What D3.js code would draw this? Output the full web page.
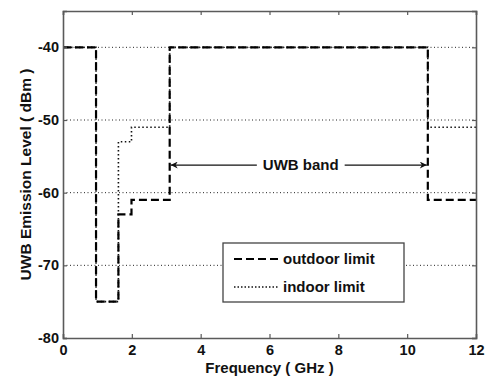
<!DOCTYPE html>
<html><head><meta charset="utf-8">
<script src="https://cdn.jsdelivr.net/npm/d3@7"></script>
<style>
html,body{margin:0;padding:0;background:#fff;}
svg text{font-family:"Liberation Sans",Arial,sans-serif;}
</style></head>
<body><svg id="chart" width="487" height="377"></svg>
<script>
// step-function breakpoints (GHz) and levels (dBm)
const freqEdges = [0, 0.96, 1.61, 1.99, 3.1, 10.6, 12];
const outdoorLevels = [-40, -75, -63, -61, -40, -61];
const indoorLevels  = [-40, -75, -53, -51, -40, -51];
const xTicks = [0, 2, 4, 6, 8, 10, 12];
const yTicks = [-80, -70, -60, -50, -40];
const gridLevels = [-70, -60, -50, -40];
const bandStart = 3.1, bandEnd = 10.6, bandLabelLevel = -56.2;

const svg = d3.select("#chart");
const m = {l:63, r:476, t:11, b:338};
const x = d3.scaleLinear().domain([0,12]).range([m.l, m.r]);
const y = d3.scaleLinear().domain([-80,-35]).range([m.b, m.t]);
const axisCol = "#5a5a5a";

// grid (horizontal dotted)
svg.append("g").selectAll("line").data(gridLevels).join("line")
  .attr("x1", m.l).attr("x2", m.r)
  .attr("y1", d=>y(d)).attr("y2", d=>y(d))
  .attr("stroke","#222").attr("stroke-width",1).attr("stroke-dasharray","1,2.5");

function stepData(levels){
  const pts=[];
  levels.forEach((v,i)=>{pts.push([freqEdges[i],v]);pts.push([freqEdges[i+1],v]);});
  return pts;
}
const line = d3.line().x(d=>x(d[0])).y(d=>y(d[1]));

svg.append("path").datum(stepData(indoorLevels)).attr("d",line)
  .attr("fill","none").attr("stroke","#111").attr("stroke-width",1.6)
  .attr("stroke-dasharray","1.5,2.5");
svg.append("path").datum(stepData(outdoorLevels)).attr("d",line)
  .attr("fill","none").attr("stroke","#000").attr("stroke-width",2.2)
  .attr("stroke-dasharray","8,4");

// axes
const fmt = d=>String(d);
const gx = svg.append("g").attr("transform",`translate(0,${m.b})`)
  .call(d3.axisBottom(x).tickValues(xTicks).tickSize(-4).tickPadding(6).tickFormat(fmt));
const gxt = svg.append("g").attr("transform",`translate(0,${m.t})`)
  .call(d3.axisTop(x).tickValues(xTicks).tickSize(-4).tickFormat(""));
const gy = svg.append("g").attr("transform",`translate(${m.l},0)`)
  .call(d3.axisLeft(y).tickValues(yTicks).tickSize(-4).tickPadding(5).tickFormat(fmt));
const gyr = svg.append("g").attr("transform",`translate(${m.r},0)`)
  .call(d3.axisRight(y).tickValues(yTicks).tickSize(-4).tickFormat(""));
[gx,gxt,gy,gyr].forEach(g=>{
  g.select(".domain").attr("stroke",axisCol).attr("stroke-width",1.6);
  g.selectAll(".tick line").attr("stroke",axisCol).attr("stroke-width",1.2);
  g.selectAll("text").attr("fill","#111").style("font-size","14.5px").style("font-weight","bold")
    .style("font-family","'Liberation Sans',Arial,sans-serif");
});
gx.selectAll("text").attr("dy","0.75em");
gy.selectAll("text").attr("dx","1");

// axis labels
svg.append("text").attr("x",(m.l+m.r)/2).attr("y",373).attr("text-anchor","middle")
  .style("font-size","15px").style("font-weight","bold").attr("fill","#111")
  .text("Frequency ( GHz )");
svg.append("text").attr("transform",`translate(31,${(m.t+m.b)/2}) rotate(-90)`)
  .attr("text-anchor","middle").style("font-size","15.5px").style("font-weight","bold").attr("fill","#111")
  .text("UWB Emission Level ( dBm )");

// UWB band annotation
const defs = svg.append("defs");
defs.append("marker").attr("id","ah").attr("viewBox","0 0 10 10").attr("refX",10).attr("refY",5)
  .attr("markerWidth",9).attr("markerHeight",7).attr("markerUnits","userSpaceOnUse").attr("orient","auto")
  .append("path").attr("d","M0,0 L10,5 L0,10 L3,5 Z").attr("fill","#111");
const ya = y(bandLabelLevel);
const lbl = svg.append("text").attr("x",(x(bandStart)+x(bandEnd))/2+2).attr("y",ya+5)
  .attr("text-anchor","middle").style("font-size","15px").style("font-weight","bold").attr("fill","#111")
  .text("UWB band");
const bb = lbl.node().getBBox();
svg.append("line").attr("x1",bb.x-6).attr("x2",x(bandStart)+1).attr("y1",ya).attr("y2",ya)
  .attr("stroke","#111").attr("stroke-width",1.2).attr("marker-end","url(#ah)");
svg.append("line").attr("x1",bb.x+bb.width+6).attr("x2",x(bandEnd)-1).attr("y1",ya).attr("y2",ya)
  .attr("stroke","#111").attr("stroke-width",1.2).attr("marker-end","url(#ah)");

// legend
const lg = svg.append("g");
lg.append("rect").attr("x",223).attr("y",243).attr("width",181).attr("height",59)
  .attr("fill","#fff").attr("stroke","#444").attr("stroke-width",1.3);
lg.append("line").attr("x1",234).attr("x2",279).attr("y1",259).attr("y2",259)
  .attr("stroke","#000").attr("stroke-width",2.2).attr("stroke-dasharray","8,4");
lg.append("line").attr("x1",234).attr("x2",279).attr("y1",287).attr("y2",287)
  .attr("stroke","#111").attr("stroke-width",1.4).attr("stroke-dasharray","1.5,2");
lg.append("text").attr("x",283).attr("y",264).style("font-size","15px").style("font-weight","bold")
  .attr("fill","#111").text("outdoor limit");
lg.append("text").attr("x",283).attr("y",292).style("font-size","15px").style("font-weight","bold")
  .attr("fill","#111").text("indoor limit");
</script></body></html>
